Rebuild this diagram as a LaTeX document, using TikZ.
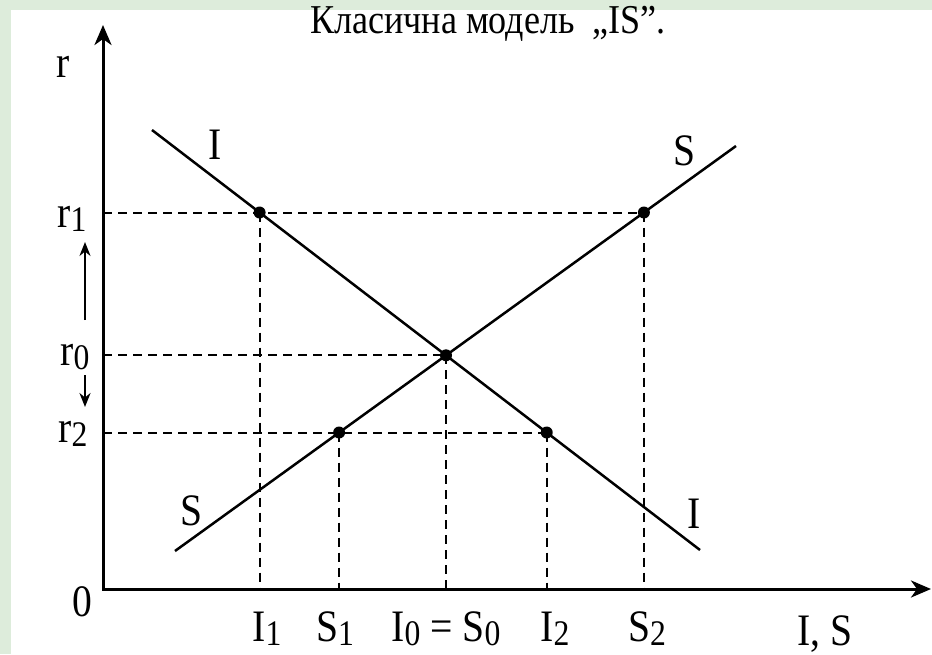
\documentclass[tikz,border=0pt]{standalone}
\usepackage{fontspec}
\setmainfont{Liberation Serif}
\newfontfamily\narrowserif{Liberation Serif}[FakeStretch=0.88]
\usetikzlibrary{arrows.meta}
\definecolor{bggreen}{RGB}{221,236,219}
\newcommand\sbs[1]{\raisebox{-0.1em}{\fontsize{36}{36}\selectfont #1}}

\begin{document}
\begin{tikzpicture}[x=1pt,y=-1pt,
  axis/.style={line width=3pt,{Stealth[length=20pt,width=17pt,inset=6pt]}-{Stealth[length=20pt,width=17pt,inset=6pt]}},
  curve/.style={line width=2.5pt},
  guide/.style={line width=2pt,dash pattern=on 9pt off 6pt},
  lbl/.style={font=\narrowserif\fontsize{45}{47}\selectfont,inner sep=0pt,anchor=base},
  dot/.style={circle,fill=black,inner sep=0pt,minimum size=12pt},
  shiftarrow/.style={line width=2pt,-{Stealth[length=14pt,width=11pt]}}]
\fill[bggreen] (0,0) rectangle (932,654);
\fill[white] (11,10) rectangle (932,654);
\useasboundingbox (0,0) rectangle (932,654);

\node[lbl,font=\narrowserif\fontsize{41}{43}\selectfont] (title) at (488,33) {Класична модель\ \ „IS”.};

% axes
\coordinate (O) at (103,589);
\coordinate (ytip) at (103,25);
\coordinate (xtip) at (931,589);
\draw[axis] (ytip) -- (O) -- (xtip);

% I and S lines
\coordinate (Ia) at (152,130);
\coordinate (Ib) at (700,550);
\coordinate (Sa) at (175,551);
\coordinate (Sb) at (736,146);
\draw[curve] (Ia) -- (Ib);
\draw[curve] (Sa) -- (Sb);

\node[dot] (I1) at (259.6,212.5) {};
\node[dot] (S2) at (643.9,212.5) {};
\node[dot] (E) at (446,355.3) {};
\node[dot] (S1) at (339.1,432.5) {};
\node[dot] (I2) at (546.7,432.5) {};

% guides
\draw[guide] (O |- S2) -- (S2.center);
\draw[guide] (O |- E) -- (E.center);
\draw[guide] (O |- I2) -- (I2.center);
\foreach \p in {I1,S1,E,I2,S2}
  \draw[guide] (\p.center) -- (\p |- O);

% labels
\node[lbl] (rlab) at (63,77) {r};
\node[lbl] (zero) at (82,616) {0};
\node[lbl] (r1) at (72,227) {r\sbs{1}};
\node[lbl] (r0) at (75,365) {r\sbs{0}};
\node[lbl] (r2) at (73,442) {r\sbs{2}};
\node[lbl] (xI1) at (267,641) {I\sbs{1}};
\node[lbl] (xS1) at (335,641) {S\sbs{1}};
\node[lbl] (xE) at (446,641) {I\sbs{0} = S\sbs{0}};
\node[lbl] (xI2) at (555,641) {I\sbs{2}};
\node[lbl] (xS2) at (647,641) {S\sbs{2}};
\node[lbl] (xlab) at (825,645) {I, S};
\node[lbl] (Itop) at (215,159) {I};
\node[lbl] (Stop) at (685,165) {S};
\node[lbl] (Sbot) at (192,525) {S};
\node[lbl] (Ibot) at (694,528) {I};

% shift of r
\coordinate (up0) at (85,320);
\coordinate (up1) at (85,242);
\coordinate (dn0) at (85,375);
\coordinate (dn1) at (85,407);
\draw[shiftarrow] (up0) -- (up1);
\draw[shiftarrow] (dn0) -- (dn1);
\end{tikzpicture}
\end{document}
